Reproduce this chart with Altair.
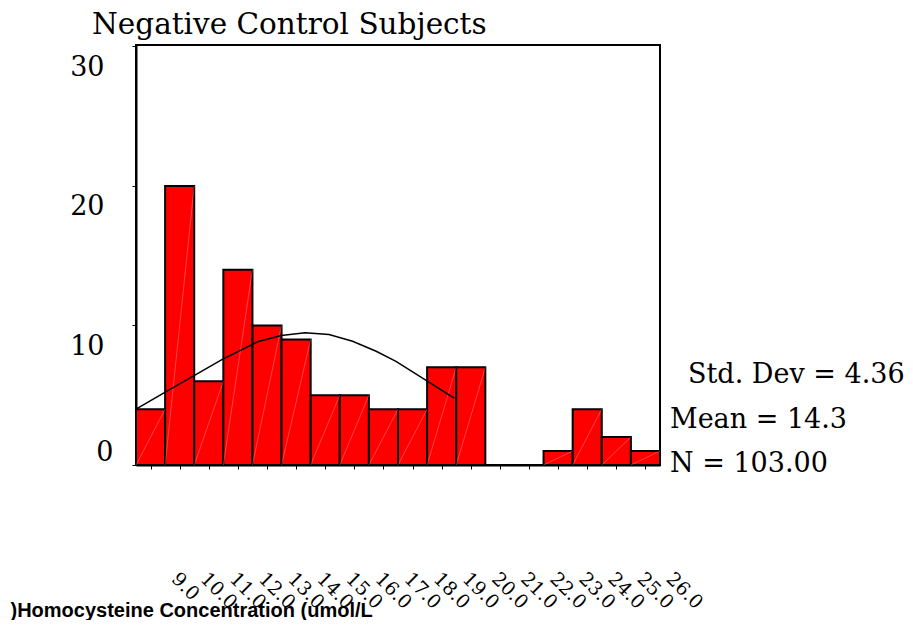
import altair as alt
import pandas as pd

# ---- data ----
bin_centers = [9, 10, 11, 12, 13, 14, 15, 16, 17, 18, 19, 20, 21, 22, 23, 24, 25, 26]
counts = [4, 20, 6, 14, 10, 9, 5, 5, 4, 4, 7, 7, 0, 0, 1, 4, 2, 1]
curve_x = [8.5, 9.55, 10.24, 11.45, 12.68, 13.49, 14.31, 15.13, 15.94, 16.75, 17.43, 18.52, 19.43]
curve_y = [4.0, 5.27, 6.1, 7.55, 8.83, 9.28, 9.47, 9.35, 8.87, 8.15, 7.43, 6.0, 4.8]
y_ticks = [0, 10, 20, 30]
stat_lines = ["Std. Dev = 4.36", "Mean = 14.3", "N = 103.00"]
title_text = "Negative Control Subjects"
x_title = ")Homocysteine Concentration (umol/L"

bars = pd.DataFrame({"center": bin_centers, "count": counts})
curve = pd.DataFrame({"x": curve_x, "y": curve_y})

SERIF = "DejaVu Serif"

xscale = alt.Scale(domain=[8.5, 26.5], nice=False, zero=False)
yscale = alt.Scale(domain=[0, 30.1], nice=False)

x_axis = alt.Axis(
    values=bin_centers, format=".1f",
    labelAngle=45, labelAlign="left", labelBaseline="top",
    labelPadding=100, labelOffset=30, labelOverlap=False, labelFlush=False,
    labelBound=False,
    labelFont=SERIF, labelFontSize=19, labelColor="black",
    tickSize=4, tickColor="black", domainColor="black", domainWidth=2,
    grid=False,
    title=x_title, titleFont="Liberation Sans", titleFontWeight="bold",
    titleFontSize=20, titleColor="black", titleAlign="left",
    titleBaseline="alphabetic", titleAnchor="start", titleX=-126, titleY=151,
)
y_axis = alt.Axis(
    values=y_ticks, format="d",
    labelFont=SERIF, labelFontSize=27, labelColor="black",
    labelPadding={"condition": {"test": "datum.value == 0", "value": 19}, "value": 28},
    labelOffset={"condition": {"test": "datum.value == 0", "value": -12.5}, "value": 21},
    tickSize=4, tickColor="black", domainColor="black", domainWidth=2,
    grid=False, title=None,
)

base = alt.Chart(bars).transform_filter("datum.count > 0").transform_calculate(
    lo="datum.center - 0.5", hi="datum.center + 0.5", zero="0"
)

bar_layer = base.mark_bar(
    color="#ff0000", stroke="black", strokeWidth=2
).encode(
    x=alt.X("lo:Q", scale=xscale, axis=x_axis),
    x2="hi:Q",
    y=alt.Y("count:Q", scale=yscale, axis=y_axis),
    y2="zero:Q",
)

hatch_layer = base.mark_rule(
    color="white", strokeWidth=0.6, opacity=0.45
).encode(
    x=alt.X("lo:Q", scale=xscale, axis=x_axis),
    x2="hi:Q",
    y=alt.Y("zero:Q", scale=yscale, axis=y_axis),
    y2="count:Q",
)

curve_layer = alt.Chart(curve).mark_line(
    color="black", strokeWidth=1.5
).encode(
    x=alt.X("x:Q", scale=xscale, axis=x_axis),
    y=alt.Y("y:Q", scale=yscale, axis=y_axis),
)

stat_style = dict(font=SERIF, fontSize=27, align="left", baseline="alphabetic", color="black")
one = alt.Chart(bars).transform_filter("datum.center == 9")
s1 = one.mark_text(text=stat_lines[0], **stat_style).encode(x=alt.value(552), y=alt.value(338))
s2 = one.mark_text(text=stat_lines[1], **stat_style).encode(x=alt.value(534), y=alt.value(383))
s3 = one.mark_text(text=stat_lines[2], **stat_style).encode(x=alt.value(534), y=alt.value(427))

chart = alt.layer(bar_layer, hatch_layer, curve_layer, s1, s2, s3).properties(
    width=524, height=420,
    title=alt.TitleParams(
        title_text, anchor="start", frame="group", dx=-44,
        font=SERIF, fontSize=29.5, fontWeight="normal", color="black",
        baseline="alphabetic", offset=-18,
    ),
    autosize=alt.AutoSizeParams(type="none"),
    padding={"left": 128, "top": 37, "right": 245, "bottom": 155},
    view=alt.ViewBackground(stroke="black", strokeWidth=2),
).configure_view(
    stroke="black", strokeWidth=2
).configure(background="white")

chart.save("out.html", embed_options={"renderer": "svg", "actions": False})
